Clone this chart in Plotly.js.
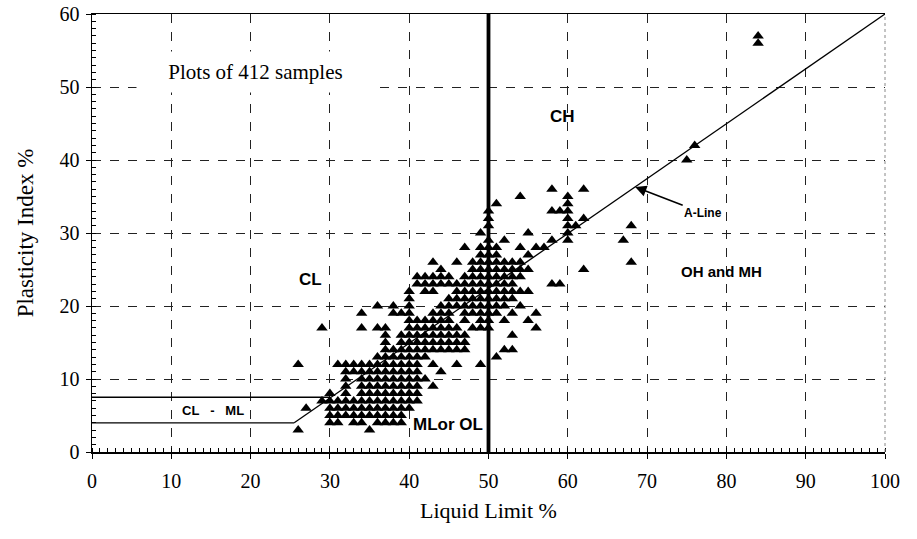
<!DOCTYPE html>
<html>
<head>
<meta charset="utf-8">
<script src="https://cdn.plot.ly/plotly-3.0.1.min.js"></script>
<style>html,body{margin:0;padding:0;background:#fff;}#chart{width:917px;height:539px;}</style>
</head>
<body>
<div id="chart"></div>
<script>
// Liquid limit columns and the plasticity indices read at each column
const liquidLimitColumns = [26, 27, 29, 30, 31, 32, 33, 34, 35, 36, 37, 38, 39, 40, 41, 42, 43, 44, 45, 46, 47, 48, 49, 50, 51, 52, 53, 54, 55, 56, 57, 58, 59, 60, 61, 62, 67, 68, 75, 76, 84];
const plasticityByColumn = [
  [3, 12],
  [6],
  [7, 17],
  [4, 5, 6, 7, 8],
  [4, 5, 6, 7, 12],
  [5, 6, 7, 8, 9, 10, 11, 12],
  [4, 5, 6, 7, 11, 12],
  [4, 5, 6, 7, 8, 9, 10, 11, 12, 17, 19],
  [3, 5, 6, 7, 8, 9, 10, 11, 12],
  [4, 5, 6, 7, 8, 9, 10, 11, 12, 13, 17, 20],
  [4, 5, 6, 7, 8, 9, 10, 11, 12, 13, 14, 15, 16, 17],
  [4, 5, 6, 7, 8, 9, 10, 11, 12, 13, 14, 19, 20],
  [4, 5, 6, 7, 8, 9, 10, 11, 12, 13, 14, 15, 16, 19],
  [6, 7, 8, 9, 10, 11, 12, 13, 14, 15, 16, 17, 18, 19, 20, 21, 22],
  [7, 8, 9, 10, 11, 12, 13, 14, 15, 16, 17, 18, 23, 24],
  [10, 13, 14, 15, 16, 17, 18, 22, 23, 24],
  [9, 12, 14, 15, 16, 17, 18, 19, 22, 23, 24, 26],
  [11, 14, 15, 16, 17, 18, 19, 20, 23, 24, 25],
  [14, 15, 16, 17, 18, 19, 20, 21, 23, 24],
  [12, 14, 15, 16, 17, 20, 21, 22, 23, 26],
  [14, 15, 16, 18, 19, 20, 21, 22, 23, 24, 28],
  [17, 19, 20, 21, 22, 23, 24, 25, 26],
  [12, 17, 18, 19, 20, 21, 22, 23, 24, 25, 26, 27, 28, 30],
  [17, 18, 19, 20, 21, 22, 23, 24, 25, 26, 27, 28, 29, 31, 32, 33],
  [13, 19, 20, 21, 22, 23, 24, 25, 26, 27, 28, 34],
  [14, 18, 20, 21, 22, 23, 24, 25, 26, 29],
  [14, 16, 19, 21, 22, 23, 24, 25, 26],
  [20, 22, 24, 25, 26, 28, 35],
  [18, 22, 25, 27, 30],
  [17, 19, 28],
  [28],
  [23, 29, 33, 36],
  [23, 33],
  [29, 30, 31, 32, 33, 34, 35],
  [31],
  [25, 32, 36],
  [29],
  [26, 31],
  [40],
  [42],
  [56, 57]
];

// Reference lines of the plasticity chart
const aLineLL = [25.5, 100];
const aLinePI = [4, 60];
const clmlLowerLL = [0, 25.5];
const clmlLowerPI = [4, 4];
const clmlUpperLL = [0, 30];
const clmlUpperPI = [7.5, 7.5];
const dividerLL = [50, 50];
const dividerPI = [0, 60];

const xTickVals = [0, 10, 20, 30, 40, 50, 60, 70, 80, 90, 100];
const yTickVals = [0, 10, 20, 30, 40, 50, 60];

const sampleLL = [];
const samplePI = [];
liquidLimitColumns.forEach((ll, i) => {
  plasticityByColumn[i].forEach(pi => { sampleLL.push(ll); samplePI.push(pi); });
});

const serif = 'Liberation Serif, Times New Roman, serif';
const sans = 'Liberation Sans, Arial, sans-serif';

const traces = [
  {x: clmlLowerLL, y: clmlLowerPI, mode: 'lines', line: {color: 'black', width: 1.3}, hoverinfo: 'skip'},
  {x: clmlUpperLL, y: clmlUpperPI, mode: 'lines', line: {color: 'black', width: 1.3}, hoverinfo: 'skip'},
  {x: aLineLL, y: aLinePI, mode: 'lines', line: {color: 'black', width: 1.3}, hoverinfo: 'skip'},
  {x: dividerLL, y: dividerPI, mode: 'lines', line: {color: 'black', width: 3.8}, hoverinfo: 'skip'},
  {x: sampleLL, y: samplePI, mode: 'markers', marker: {symbol: 'triangle-up', size: 10, color: 'black'}}
];

const layout = {
  width: 917, height: 539,
  margin: {l: 92, r: 32, t: 14, b: 87},
  paper_bgcolor: 'white', plot_bgcolor: 'white',
  showlegend: false,
  xaxis: {
    range: [0, 100], tickvals: xTickVals, ticks: 'outside', ticklen: 5, tickcolor: 'black',
    showline: true, linecolor: 'black', linewidth: 1.5, mirror: true,
    showgrid: true, gridcolor: '#222', griddash: 'dash', gridwidth: 1,
    zeroline: false,
    minor: {dtick: 1, ticks: 'inside', ticklen: 4, tickcolor: 'black', showgrid: false},
    tickfont: {family: serif, size: 20, color: 'black'},
    ticklabelstandoff: 5,
    title: {text: 'Liquid Limit %', font: {family: serif, size: 22, color: 'black'}, standoff: 12}
  },
  yaxis: {
    range: [0, 60], tickvals: yTickVals, ticks: 'outside', ticklen: 5, tickcolor: 'black',
    showline: true, linecolor: 'black', linewidth: 1.5,
    showgrid: true, gridcolor: '#222', griddash: 'dash', gridwidth: 1,
    zeroline: false,
    minor: {dtick: 1, ticks: 'inside', ticklen: 4, tickcolor: 'black', showgrid: false},
    tickfont: {family: serif, size: 20, color: 'black'},
    ticklabelstandoff: 2,
    title: {text: 'Plasticity Index %', font: {family: serif, size: 23, color: 'black'}, standoff: 19}
  },
  shapes: [
    {type: 'line', xref: 'paper', yref: 'paper', x0: 1, x1: 1, y0: 0, y1: 1, line: {color: '#888', width: 1, dash: 'dot'}}
  ],
  annotations: [
    {x: 20.6, y: 52, xref: 'x', yref: 'y', text: 'Plots of 412 samples', showarrow: false,
     font: {family: serif, size: 21, color: 'black'}, bgcolor: 'white', width: 235, height: 38},
    {x: 59.3, y: 45.9, text: '<b>CH</b>', showarrow: false, font: {family: sans, size: 17, color: 'black'}},
    {x: 27.5, y: 23.6, text: '<b>CL</b>', showarrow: false, font: {family: sans, size: 17, color: 'black'}},
    {x: 79.4, y: 24.7, text: '<b>OH and MH</b>', showarrow: false, font: {family: sans, size: 15, color: 'black'}},
    {x: 44.9, y: 3.8, text: '<b>MLor OL</b>', showarrow: false, font: {family: sans, size: 17, color: 'black'}},
    {x: 15.2, y: 5.75, text: '<b>CL&nbsp;&nbsp;&nbsp;-&nbsp;&nbsp;&nbsp;ML</b>', showarrow: false, font: {family: sans, size: 13, color: 'black'}},
    {x: 68.5, y: 36.3, text: '<b>A-Line</b>', showarrow: true, ax: 68, ay: 26,
     arrowhead: 2, arrowsize: 1.4, arrowwidth: 1.6, arrowcolor: 'black', standoff: 0,
     font: {family: sans, size: 12, color: 'black'}}
  ]
};

Plotly.newPlot('chart', traces, layout, {displayModeBar: false, staticPlot: true});
</script>
</body>
</html>
